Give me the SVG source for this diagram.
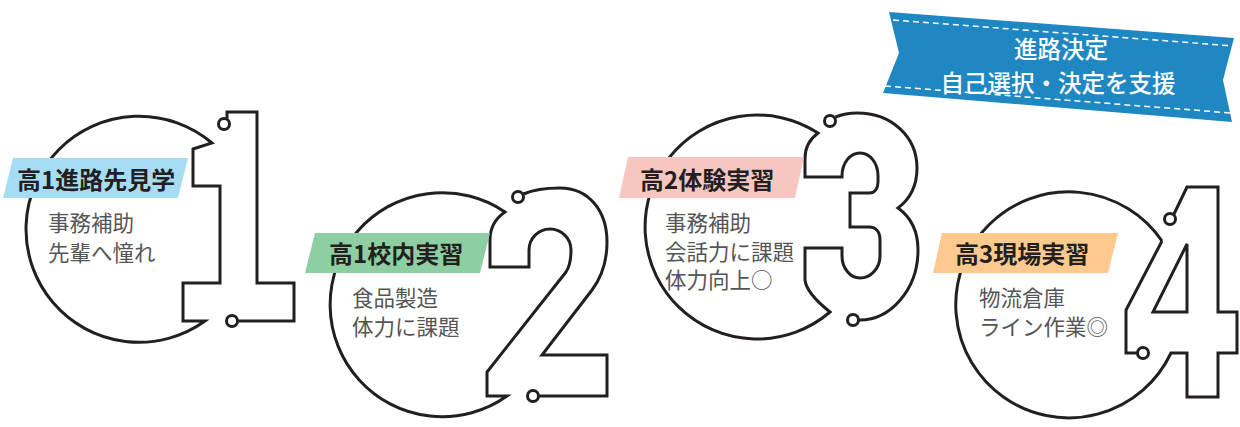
<svg xmlns="http://www.w3.org/2000/svg" width="1240" height="427" viewBox="0 0 1240 427">
<style>
.ol{fill:#fff;stroke:#231f20;stroke-width:3;stroke-linejoin:miter;stroke-linecap:butt}
.ln{fill:none;stroke:#231f20;stroke-width:3;stroke-linejoin:miter}
.dot{fill:#fff;stroke:#231f20;stroke-width:3}
.lab{font-family:"Noto Sans CJK JP","Noto Sans",sans-serif;font-weight:700;font-size:24px;fill:#231f20}
.body{font-family:"Noto Sans CJK JP","Noto Sans",sans-serif;font-weight:400;font-size:21.5px;fill:#555}
.ban{font-family:"Noto Sans CJK JP","Noto Sans",sans-serif;font-weight:500;font-size:23.5px;fill:#fff;text-anchor:middle}
.dash{fill:none;stroke:#fff;stroke-width:1.5;stroke-dasharray:6 4}
</style>
<rect width="1240" height="427" fill="#fff"/>
<g id="step1">
<path class="ol" d="M193,149 L212,143 A113,113 0 1 0 205,321 L183,321 L183,283 L220,283 L220,186 L193,186 Z"/>
<path class="ln" d="M227,118.5 L227,112 L257,112 L257,283 L294,283 L294,321 L237.5,321"/>
<circle class="dot" cx="224" cy="124" r="5.5"/>
<circle class="dot" cx="232" cy="321" r="5.5"/>
<polygon points="13,158 188,158 178,198 3,198" fill="#a6dcf4"/>
<text class="lab" x="17" y="189">高1進路先見学</text>
<text class="body" x="48" y="231">事務補助</text>
<text class="body" x="48" y="261">先輩へ憧れ</text>
</g>
<g id="step2">
<path class="ol" d="M505,212 A112,112 0 1 0 507,396 L487,396 L487,372 L566,272 C570,266 571,260 571,250 A21,21 0 0 0 529,250 L529,267 L490,267 L490,240 C490,228 496,218 505,212 Z"/>
<path class="ln" d="M523.5,194 C535,189 548,188 560,188 C588,188 607,210 607,242 C607,262 601,278 592,290 L542,355 L607,355 L607,396 L538.5,396"/>
<circle class="dot" cx="518" cy="197" r="5.5"/>
<circle class="dot" cx="533" cy="396" r="5.5"/>
<polygon points="315,233 490,233 480,273 305,273" fill="#8ecea3"/>
<text class="lab" x="329" y="263">高1校内実習</text>
<text class="body" x="352" y="306">食品製造</text>
<text class="body" x="352" y="335">体力に課題</text>
</g>
<g id="step3">
<path class="ol" d="M818,133 A112,112 0 1 0 830,312 C815,300 806,290 805,280 L805,248 L842,248 L842,256 C842,268 850,278 860,278 C871,278 880,268 880,256 L880,240 C880,232 876,227 869,227 L850,227 L850,193 L869,193 C875,193 878,188 878,182 L878,176 C878,163 870,153 860,153 C850,153 842,163 842,176 L842,177 L805,177 L805,158 C805,148 810,139 818,133 Z"/>
<path class="ln" d="M835.5,117 C843,114 850,113 857,113 C892,113 917,137 917,168 C917,185 910,199 898,208 C912,218 918,233 918,250 C918,290 890,320 860,320 L858.5,320"/>
<circle class="dot" cx="830" cy="121" r="5.5"/>
<circle class="dot" cx="853" cy="320" r="5.5"/>
<polygon points="628,157 804,157 795,198 619,198" fill="#f8c6c0"/>
<text class="lab" x="640" y="189">高2体験実習</text>
<text class="body" x="665" y="231">事務補助</text>
<text class="body" x="665" y="260">会話力に課題</text>
<text class="body" x="665" y="288">体力向上○</text>
</g>
<g id="step4">
<path class="ol" d="M1162,241 A113,113 0 1 0 1171,353 L1187,353 L1187,397 L1218,397 L1218,353 L1237,353 L1237,312 L1218,312 L1218,187 L1187,187 L1174,214"/>
<path class="ln" d="M1162,241 L1126,310 L1126,353 L1137.5,353"/>
<path class="ln" d="M1187,244 L1187,312 L1153,312 Z"/>
<circle class="dot" cx="1170" cy="219" r="5.5"/>
<circle class="dot" cx="1143" cy="353" r="5.5"/>
<polygon points="942,233 1118,233 1108,273 933,273" fill="#fdc98e"/>
<text class="lab" x="955" y="263">高3現場実習</text>
<text class="body" x="979" y="306">物流倉庫</text>
<text class="body" x="979" y="335">ライン作業◎</text>
</g>
<g id="banner">
<polygon points="889,12 1234,38 1223,80 1232,122 883,93 899,53" fill="#1f88c3"/>
<line class="dash" x1="893" y1="20" x2="1233" y2="46"/>
<line class="dash" x1="885" y1="86" x2="1231" y2="113"/>
<text class="ban" x="1061" y="58">進路決定</text>
<text class="ban" x="1058" y="92">自己選択・決定を支援</text>
</g>
</svg>
